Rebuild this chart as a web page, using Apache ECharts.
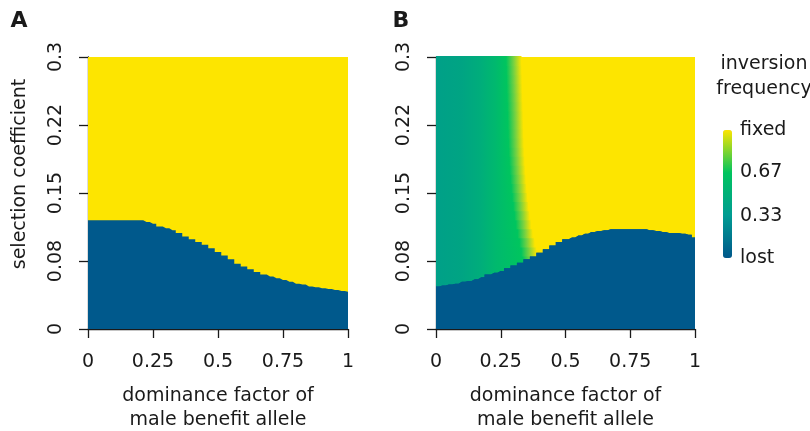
<!DOCTYPE html>
<html>
<head>
<meta charset="utf-8">
<script src="https://cdn.jsdelivr.net/npm/echarts@6/dist/echarts.min.js"></script>
<style>
  html, body { margin: 0; background: #fff; }
  #main { width: 810px; height: 431px; }
</style>
</head>
<body>
<div id="main"></div>
<script>
// dominance factor (x) positions at which the lost/fixed boundary was read
const dominance = [0, 0.025, 0.05, 0.075, 0.1, 0.125, 0.15, 0.175, 0.2, 0.225,
  0.25, 0.275, 0.3, 0.325, 0.35, 0.375, 0.4, 0.425, 0.45, 0.475,
  0.5, 0.525, 0.55, 0.575, 0.6, 0.625, 0.65, 0.675, 0.7, 0.725,
  0.75, 0.775, 0.8, 0.825, 0.85, 0.875, 0.9, 0.925, 0.95, 0.975, 1];

// panel A: selection coefficient below which the inversion is lost
const boundaryA = [0.12, 0.12, 0.12, 0.12, 0.12, 0.12, 0.12, 0.12, 0.12, 0.118,
  0.116, 0.113, 0.111, 0.109, 0.106, 0.102, 0.099, 0.096, 0.093, 0.089,
  0.085, 0.081, 0.077, 0.072, 0.069, 0.066, 0.063, 0.060, 0.058, 0.056,
  0.054, 0.052, 0.050, 0.049, 0.047, 0.046, 0.045, 0.044, 0.043, 0.042, 0.041];

// panel B: same boundary
const boundaryB = [0.047, 0.048, 0.049, 0.050, 0.052, 0.053, 0.055, 0.057, 0.060, 0.062,
  0.064, 0.067, 0.070, 0.073, 0.077, 0.080, 0.084, 0.088, 0.092, 0.096,
  0.099, 0.101, 0.103, 0.105, 0.107, 0.108, 0.109, 0.110, 0.110, 0.110,
  0.110, 0.110, 0.110, 0.109, 0.108, 0.107, 0.106, 0.106, 0.105, 0.104, 0.101];

// panel B: polymorphic (green) region, dominance at which it turns fixed, per selection level
const edgeS = [0.04, 0.05, 0.06, 0.07, 0.08, 0.09, 0.10, 0.11, 0.12, 0.13,
  0.14, 0.15, 0.16, 0.17, 0.18, 0.19, 0.20, 0.21, 0.22, 0.23,
  0.24, 0.25, 0.26, 0.27, 0.28, 0.29, 0.30];
const edgeH = [0.405, 0.403, 0.400, 0.397, 0.392, 0.386, 0.378, 0.371, 0.365, 0.360,
  0.356, 0.352, 0.349, 0.346, 0.344, 0.342, 0.340, 0.339, 0.338, 0.337,
  0.336, 0.335, 0.334, 0.333, 0.332, 0.331, 0.330];

const xTickLabels = ['0', '0.25', '0.5', '0.75', '1'];
const yTickLabels = ['0', '0.08', '0.15', '0.22', '0.3'];
const legendValues = [1, 0.67, 0.33, 0];
const legendLabels = ['fixed', '0.67', '0.33', 'lost'];

const sMax = 0.3;
const LOST = '#00598C';
const FIXED = '#FDE500';
const FONT = 'DejaVu Sans';
const INK = '#1a1a1a';
const FS = 19;

const chart = echarts.init(document.getElementById('main'));

function xAxisFor(i) {
  return {
    type: 'value', gridIndex: i, min: 0, max: 1, interval: 0.25,
    axisLine: { show: true, onZero: false, lineStyle: { color: INK, width: 1.3 } },
    axisTick: { show: true, length: 9, lineStyle: { color: INK, width: 1.3 } },
    splitLine: { show: false },
    axisLabel: {
      fontSize: FS, fontFamily: FONT, color: INK, margin: 24,
      formatter: v => xTickLabels[Math.round(v / 0.25)]
    },
    name: 'dominance factor of\nmale benefit allele',
    nameLocation: 'middle', nameGap: 55,
    nameTextStyle: { fontSize: FS, fontFamily: FONT, color: INK, lineHeight: 24 }
  };
}

function yAxisFor(i) {
  return {
    type: 'value', gridIndex: i, min: 0, max: sMax, interval: 0.075,
    axisLine: { show: true, onZero: false, lineStyle: { color: INK, width: 1.3 } },
    axisTick: { show: true, length: 9, lineStyle: { color: INK, width: 1.3 } },
    splitLine: { show: false },
    axisLabel: {
      rotate: 90, fontSize: FS, fontFamily: FONT, color: INK, margin: 22,
      formatter: v => yTickLabels[Math.round(v / 0.075)]
    }
  };
}

function fixedArea(i) {
  return {
    type: 'line', xAxisIndex: i, yAxisIndex: i, silent: true, z: 1,
    data: dominance.map(h => [h, sMax]),
    symbol: 'none', lineStyle: { width: 0 },
    areaStyle: { color: FIXED, opacity: 1 }
  };
}

function lostArea(i, values) {
  return {
    type: 'line', xAxisIndex: i, yAxisIndex: i, silent: true, z: 5,
    data: dominance.map((h, k) => [h, values[k]]),
    step: 'middle', symbol: 'none', lineStyle: { width: 0 },
    areaStyle: { color: LOST, opacity: 1 }
  };
}

const bands = edgeS.slice(0, -1).map((s, k) => [edgeH[k], s, edgeH[k + 1], edgeS[k + 1]]);

const greenSeries = {
  type: 'custom', xAxisIndex: 1, yAxisIndex: 1, silent: true, z: 3,
  data: bands,
  renderItem: function (params, api) {
    const e0 = api.value(0), s0 = api.value(1), e1 = api.value(2), s1 = api.value(3);
    const a = api.coord([0, s0]);
    const b = api.coord([e0, s0]);
    const c = api.coord([e1, s1]);
    const d = api.coord([0, s1]);
    // overlap neighbouring bands by a pixel so no seam shows
    c[1] -= 1; d[1] -= 1;
    const e = (e0 + e1) / 2;
    const x0 = a[0];
    const x1 = api.coord([e, s0])[0];
    const at = h => Math.min(1, h / e);
    const grad = new echarts.graphic.LinearGradient(x0, 0, x1, 0, [
      { offset: 0, color: '#00A088' },
      { offset: at(0.1), color: '#00A483' },
      { offset: at(0.17), color: '#00AD7B' },
      { offset: at(0.23), color: '#00B96E' },
      { offset: at(e - 0.06), color: '#00C55E' },
      { offset: at(e - 0.03), color: '#7AD240' },
      { offset: 1, color: FIXED }
    ], true);
    return {
      type: 'polygon',
      shape: { points: [a, b, c, d] },
      style: { fill: grad }
    };
  }
};

const barTop = 130, barH = 128;
function label(text, x, y, extra) {
  return Object.assign({
    type: 'text', x: x, y: y,
    style: { text: text, fontSize: FS, fontFamily: FONT, fill: INK, align: 'center', verticalAlign: 'middle' }
  }, extra || {});
}
const graphics = [
  label('A', 19, 21),
  label('B', 401, 21),
  label('selection coefficient', 20, 174, { rotation: Math.PI / 2 }),
  label('inversion\nfrequency', 764, 77)
].concat(legendValues.map((v, k) => label(legendLabels[k], 740, barTop + (1 - v) * barH)));
graphics[0].style.fontSize = 22; graphics[0].style.fontWeight = 'bold';
graphics[1].style.fontSize = 22; graphics[1].style.fontWeight = 'bold';
graphics[3].style.lineHeight = 25;
for (let k = 4; k < graphics.length; k++) graphics[k].style.align = 'left';

chart.setOption({
  animation: false,
  backgroundColor: '#fff',
  grid: [
    { left: 88, top: 57, width: 260, height: 272, outerBoundsMode: 'none' },
    { left: 436, top: 57, width: 259, height: 272, outerBoundsMode: 'none' }
  ],
  xAxis: [xAxisFor(0), xAxisFor(1)],
  yAxis: [yAxisFor(0), yAxisFor(1)],
  visualMap: {
    type: 'continuous', min: 0, max: 1, show: true, calculable: false, hoverLink: false,
    seriesIndex: 4, dimension: 0,
    orient: 'vertical', left: 723, top: barTop, itemWidth: 9, itemHeight: barH, padding: 0,
    inRange: { color: ['#00588B', '#009C92', '#00C45E', FIXED] }
  },
  series: [
    fixedArea(0),
    lostArea(0, boundaryA),
    fixedArea(1),
    lostArea(1, boundaryB),
    greenSeries,
    lostArea(1, boundaryB)
  ],
  graphic: graphics
});
</script>
</body>
</html>
